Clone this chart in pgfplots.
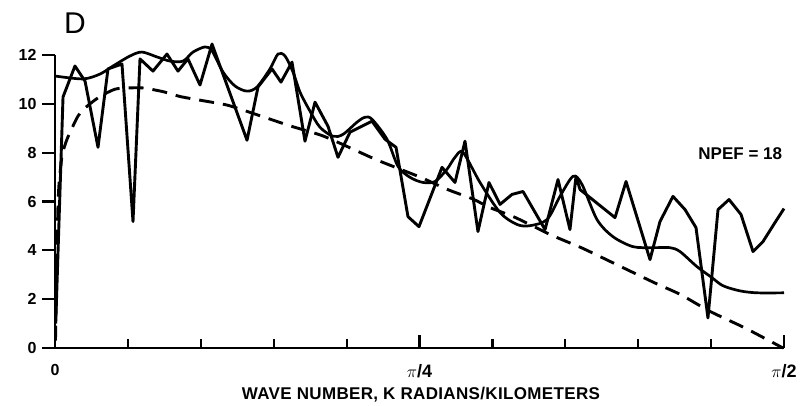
\documentclass[border=0pt]{standalone}
\usepackage{fontspec}
\setmainfont{Liberation Sans}
\usepackage{pgfplots}
\pgfplotsset{compat=1.18}
\begin{document}
\begin{tikzpicture}
\begin{axis}[
  scale only axis, width=729pt, height=293pt,
  xmin=0, xmax=10, ymin=0, ymax=12,
  axis x line=bottom, axis y line=left,
  axis line style={-, line width=2.6pt},
  clip=false,
  tick align=outside,
  major tick length=13pt, minor tick length=9pt,
  every tick/.style={black, line width=2.2pt},
  major x tick style={yshift=13pt},
  minor x tick style={yshift=9pt},
  xtick={0,5,10}, minor xtick={1,2,3,4,6,7,8,9},
  xticklabels={0,{\fontsize{18}{20}\selectfont$\pi$/4},{\fontsize{18}{20}\selectfont$\pi$/2}},
  ytick={0,2,4,6,8,10,12},
  /pgf/number format/assume math mode=true,
  ticklabel style={font=\fontsize{16}{18}\selectfont\bfseries},
  yticklabel style={xshift=-2pt},
]
% jagged spectrum
\addplot[black, line width=2.9pt, line join=round] coordinates {
(0.01,1.0) (0.110,10.28) (0.274,11.55) (0.412,10.93) (0.590,8.22) (0.727,11.43)
(0.919,11.63) (1.070,5.18) (1.166,11.84) (1.344,11.34) (1.536,12.04) (1.687,11.34)
(1.824,11.84) (1.989,10.77) (2.154,12.45) (2.634,8.51) (2.785,10.69) (2.977,11.43)
(3.100,10.89) (3.251,11.71) (3.429,8.47) (3.567,10.07) (3.745,9.08) (3.882,7.81)
(4.047,8.84) (4.348,9.29) (4.527,8.55) (4.678,8.22) (4.842,5.38) (4.993,4.97)
(5.309,7.40) (5.487,6.78) (5.624,8.47) (5.802,4.77) (5.953,6.78) (6.104,5.88)
(6.269,6.29) (6.420,6.41) (6.722,4.85) (6.900,6.90) (7.064,4.85) (7.147,7.03)
(7.202,6.49) (7.682,5.34) (7.833,6.82) (8.162,3.62) (8.299,5.18) (8.477,6.21)
(8.642,5.67) (8.793,4.93) (8.957,1.23) (9.095,5.67) (9.246,6.08) (9.410,5.47)
(9.575,3.95) (9.712,4.36) (9.877,5.14) (10.0,5.71)
};
% smooth spectrum
\addplot[black, line width=2.7pt, smooth, tension=0.5] coordinates {
(0,11.14) (0.384,11.02) (0.617,11.22) (0.796,11.55) (1.029,11.96) (1.193,12.12)
(1.399,11.92) (1.578,11.75) (1.756,11.75) (1.893,12.12) (2.058,12.33) (2.154,12.17)
(2.305,11.30) (2.469,10.73) (2.634,10.52) (2.771,10.69) (2.949,11.43) (3.059,12.04)
(3.155,11.96) (3.265,11.30) (3.361,10.48) (3.498,9.70) (3.635,9.04) (3.813,8.67)
(3.951,8.75) (4.143,9.25) (4.252,9.45) (4.348,9.37) (4.554,8.55) (4.705,7.44)
(4.870,6.99) (5.048,6.78) (5.213,6.82) (5.377,7.32) (5.487,7.81) (5.597,8.01)
(5.830,6.78) (6.104,5.55) (6.337,5.06) (6.516,5.01) (6.749,5.26) (6.927,6.21)
(7.106,7.03) (7.229,6.70) (7.435,5.26) (7.654,4.56) (7.929,4.15) (8.203,4.11)
(8.436,4.11) (8.573,3.95) (8.807,3.33) (9.012,2.88) (9.163,2.55) (9.396,2.34)
(9.630,2.26) (10.0,2.26)
};
% dashed model curve
\addplot[black, line width=2.9pt, dash pattern=on 15pt off 9pt, smooth, tension=0.4] coordinates {
(0.007,0.3) (0.014,2.0) (0.027,4.0) (0.041,5.8) (0.055,6.7) (0.096,7.85)
(0.165,8.55) (0.316,9.5) (0.439,9.9) (0.617,10.3) (0.823,10.6) (1.001,10.65)
(1.207,10.65) (1.481,10.5) (1.715,10.3) (1.989,10.15) (2.359,9.95) (2.675,9.65)
(3.224,9.1) (3.663,8.7) (4.047,8.2) (4.417,7.7) (5.007,7.0) (5.377,6.5)
(5.734,6.1) (5.967,5.75) (6.310,5.35) (6.790,4.65) (7.106,4.25) (7.298,4.0)
(8.203,2.7) (8.573,2.2) (8.985,1.5) (9.465,0.82) (9.986,0.0)
};
\node[font=\fontsize{30}{32}\selectfont] at (axis cs:0.274,13.32) {D};
\node[font=\fontsize{17}{19}\selectfont\bfseries] at (axis cs:9.40,7.97) {NPEF = 18};
\node[font=\fontsize{17}{19}\selectfont\bfseries\addfontfeature{LetterSpace=2}] at (axis cs:5.02,-1.93) {WAVE NUMBER, K RADIANS/KILOMETERS};
\end{axis}
\path (current axis.south west) ++(-55pt,-57pt) coordinate (bbA);
\path (current axis.north east) ++(20pt,55pt) coordinate (bbB);
\path (bbA) rectangle (bbB);
\end{tikzpicture}
\end{document}
